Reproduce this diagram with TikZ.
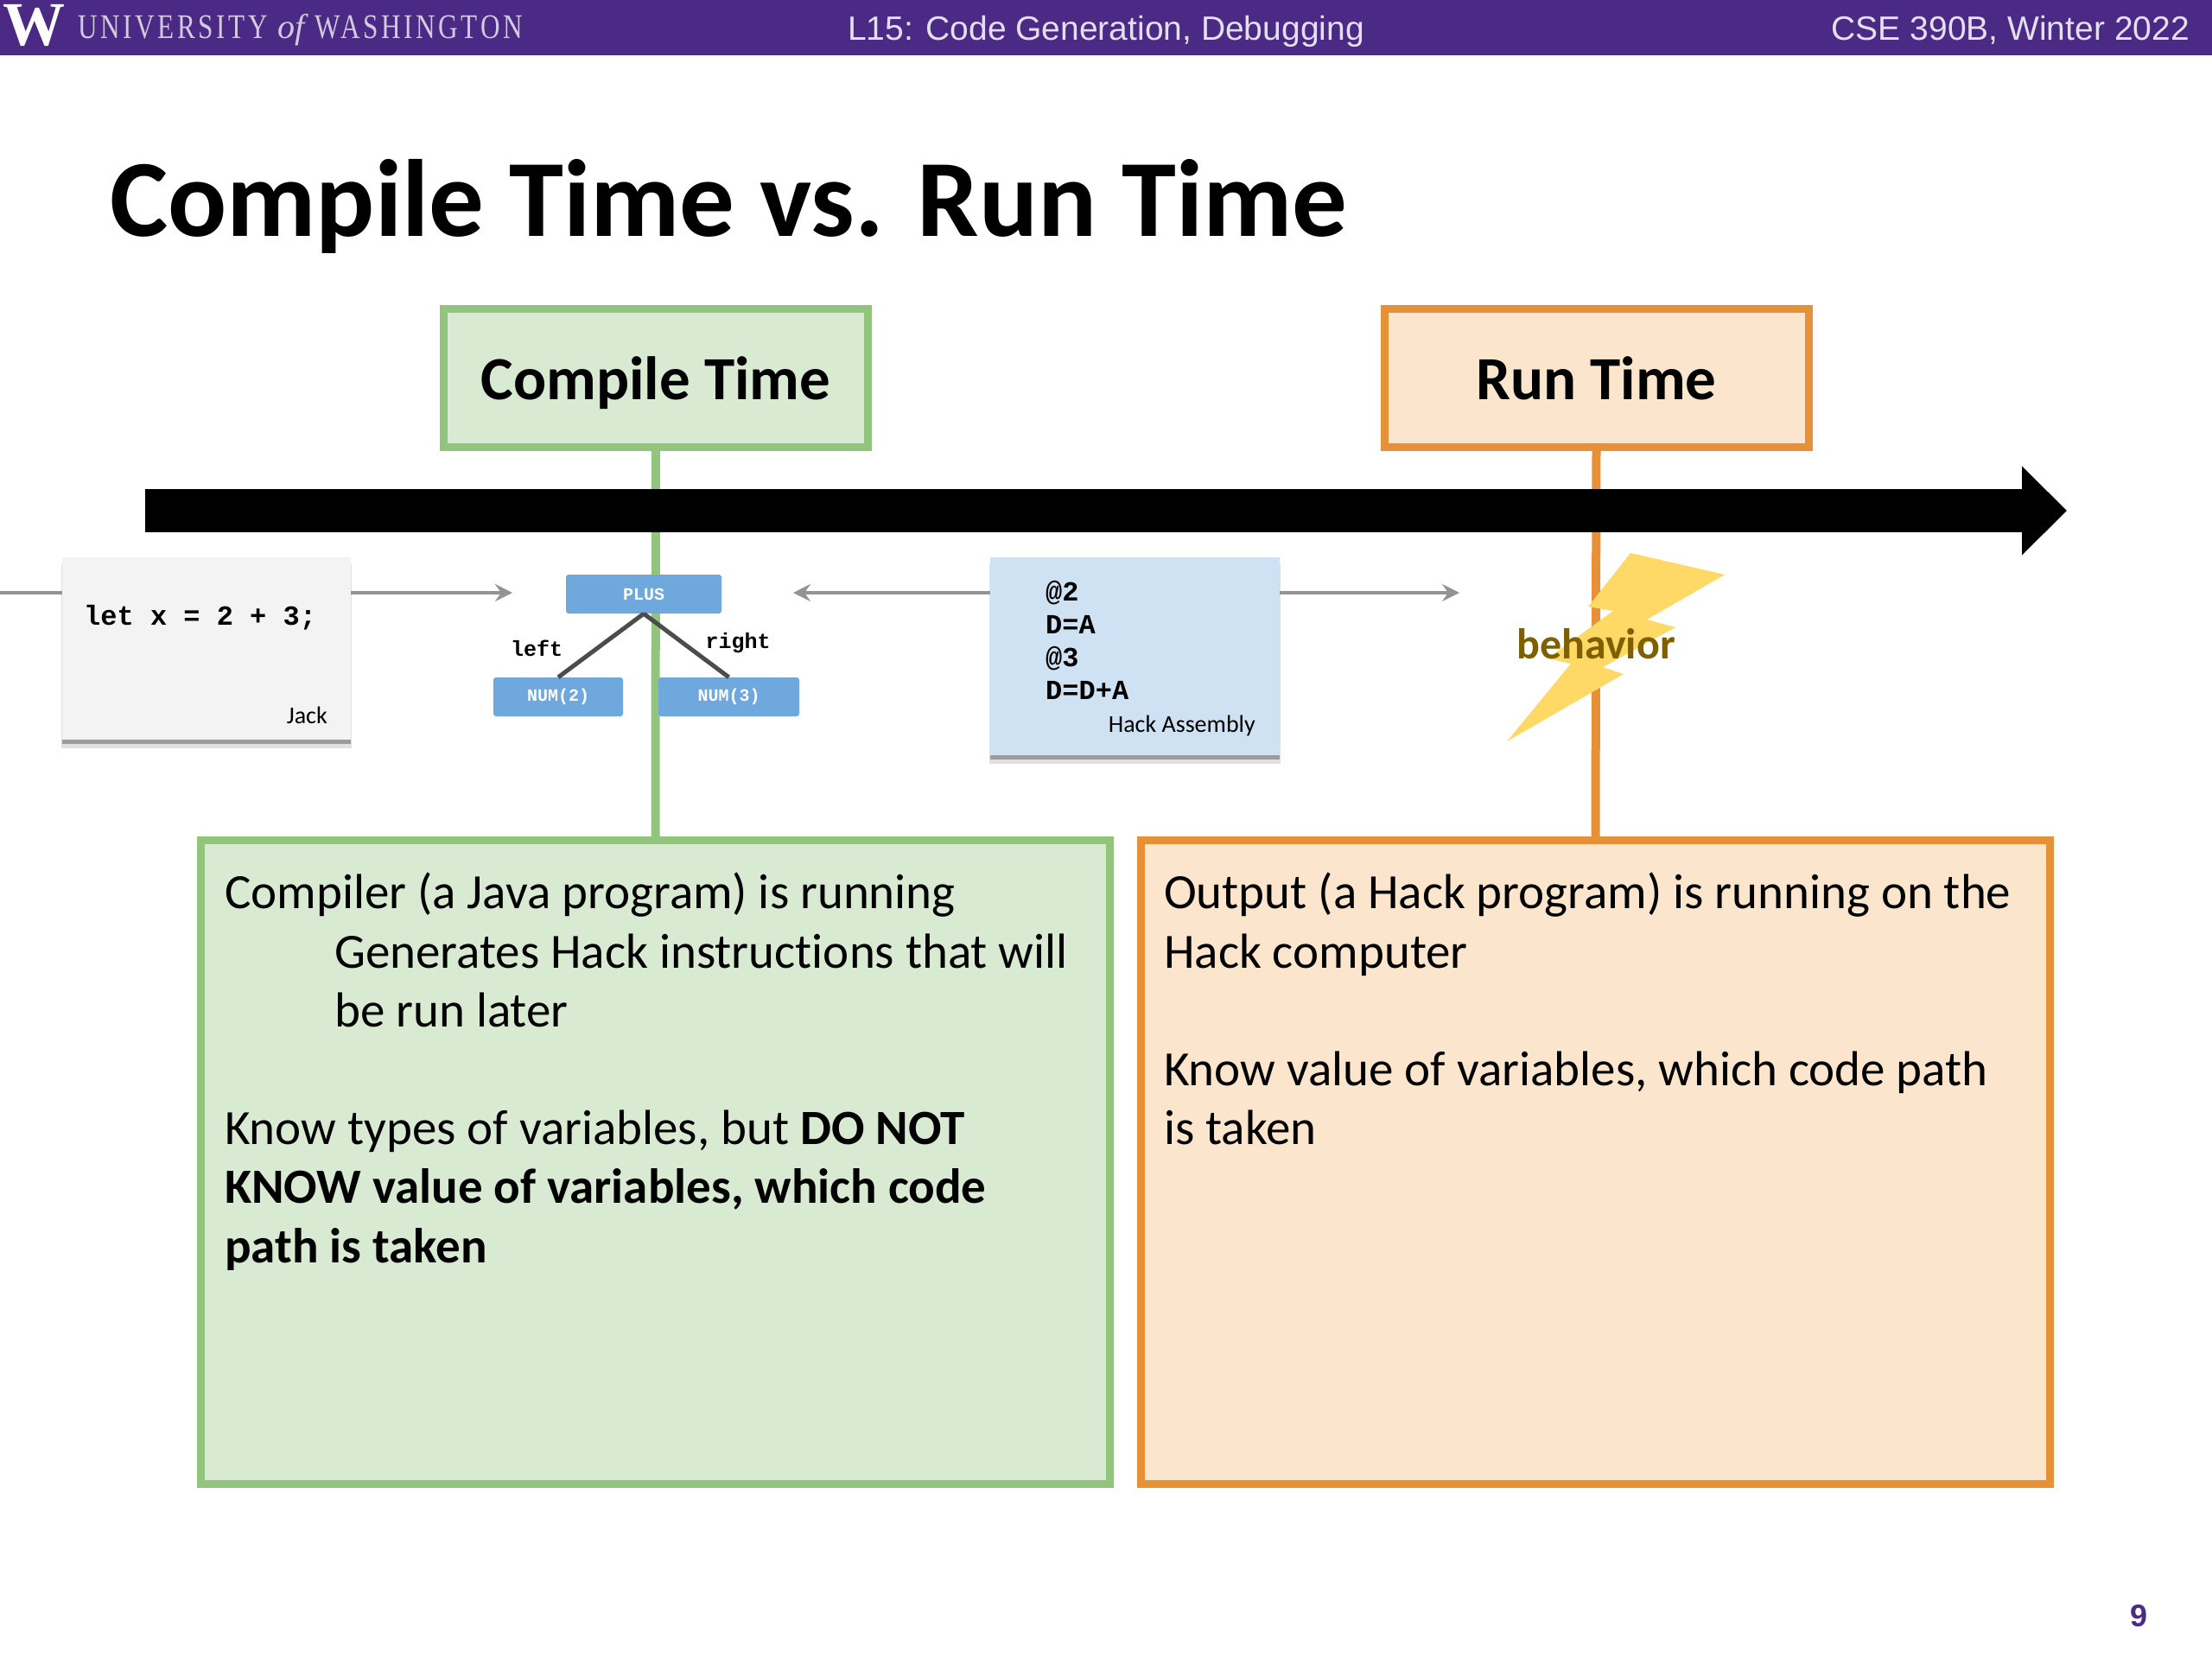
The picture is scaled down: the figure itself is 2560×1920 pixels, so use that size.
\documentclass[tikz,border=0pt]{standalone}
\usepackage{fontspec}
\setmainfont{Carlito}[Ligatures=NoCommon]
\newfontfamily\headfont{Liberation Sans}
\newfontfamily\uwfont[LetterSpace=9,FakeStretch=0.78]{Liberation Serif}
\newfontfamily\uwplain{Liberation Serif}
\newfontfamily\codefont{Liberation Mono}
\usetikzlibrary{arrows.meta,shadows}
\newcommand{\fs}[2]{\fontsize{#1}{#2}\selectfont}
\definecolor{uwpurple}{HTML}{4B2A85}
\definecolor{greenedge}{HTML}{93C47D}
\definecolor{greenfill}{HTML}{D9EAD3}
\definecolor{orangeedge}{HTML}{E69138}
\definecolor{orangefill}{HTML}{FCE5CD}
\definecolor{astblue}{HTML}{6FA8DC}
\definecolor{hackblue}{HTML}{CFE2F3}
\definecolor{jackgray}{HTML}{F3F3F3}
\definecolor{boltyellow}{HTML}{FFD966}
\definecolor{boltbrown}{HTML}{7F6000}
\tikzset{
  sizedbox/.style={rectangle,inner sep=0pt,outer sep=0pt,line width=9pt},
  greenbox/.style={sizedbox,draw=greenedge,fill=greenfill},
  orangebox/.style={sizedbox,draw=orangeedge,fill=orangefill},
  softshadow/.style={general shadow={fill=black,shadow xshift=0pt,shadow yshift=-9pt,shadow scale=1.006,opacity=0.12},
    general shadow={fill=black,shadow xshift=0pt,shadow yshift=-5pt,opacity=0.3}},
  codebox/.style={rectangle,inner sep=0pt,outer sep=0pt,softshadow},
  astnode/.style={rectangle,rounded corners=3pt,inner sep=0pt,fill=astblue,text=white,
    font=\codefont\bfseries\fs{20}{22}},
  flow/.style={draw=gray!85,line width=4pt,-{Stealth[length=20pt,width=20pt,inset=7pt]}},
  flowplain/.style={draw=gray!85,line width=4pt},
  treeedge/.style={draw=black!70,line width=5pt},
  bigtext/.style={anchor=north west,inner sep=0pt,align=left,font=\fs{57}{68.2}},
  boxlabel/.style={inner sep=0pt,anchor=base,font=\bfseries\fs{71}{75}},
  codetext/.style={inner sep=0pt,anchor=north west,align=left,font=\codefont\bfseries\fs{32}{38.2}}
}
\begin{document}
\begin{tikzpicture}[x=1pt,y=-1pt]
  \useasboundingbox (0,0) rectangle (2560,1920);
  % header
  \fill[uwpurple] (0,0) rectangle (2560,64);
  \node[inner sep=0pt,text=white] (logo) at (39,29) {\uwplain\bfseries\fs{72}{72}W};
  \node[inner sep=0pt,anchor=base west,text=white!75!uwpurple] (uw) at (90,44)
    {\uwfont\fs{40}{40}UNIVERSITY\hspace{12pt}\uwplain\itshape of\hspace{12pt}\uwfont\upshape WASHINGTON};
  \node[inner sep=0pt,anchor=base,text=white!85!uwpurple,font=\headfont\fs{39}{39}] (lecture) at (1280,46) {L15: Code Generation, Debugging};
  \node[inner sep=0pt,anchor=base east,text=white!85!uwpurple,font=\headfont\fs{39}{39}] (course) at (2534,46) {CSE 390B, Winter 2022};
  \node[inner sep=0pt,anchor=base west,font=\bfseries\fs{127}{126}] (title) at (127,273) {Compile Time vs. Run Time};
  % large boxes
  \node[greenbox,minimum width=1052pt,minimum height=745pt] (compilebig) at (758.5,1344.5) {};
  \node[orangebox,minimum width=1052pt,minimum height=745pt] (runbig) at (1846.5,1344.5) {};
  % top boxes
  \node[greenbox,minimum width=491pt,minimum height=160pt] (compiletop) at (759,437.5) {};
  \node[orangebox,minimum width=491pt,minimum height=160pt] (runtop) at (1847.5,437.5) {};
  \node[boxlabel] (compilelabel) at (759,462) {Compile Time};
  \node[boxlabel] (runlabel) at (1847.5,462) {Run Time};
  % time lines
  \draw[greenedge,line width=10pt] (compiletop.south) -- (compilebig.north);
  \draw[orangeedge,line width=10pt] (runtop.south) -- (runbig.north);
  \coordinate (timestart) at (168,591);
  \coordinate (timeend) at (2392,591);
  \draw[line width=50pt,-{Triangle[length=52pt,width=100pt]}] (timestart) -- (timeend);
  % jack
  \node[codebox,fill=jackgray,minimum width=334pt,minimum height=211pt] (jack) at (239,750.5) {};
  \coordinate (jackin) at (0,686);
  \coordinate (jackout) at (593,686);
  \draw[flowplain] (jackin) -- (jack.west |- jackin);
  \draw[flow] (jack.east |- jackout) -- (jackout);
  \node[inner sep=0pt,anchor=base west,font=\codefont\bfseries\fs{32}{32}] (letx) at (97,723) {let x = 2 + 3;};
  \node[inner sep=0pt,anchor=base east,font=\fs{28}{28}] (jacklabel) at (379,837) {Jack};
  % ast
  \node[astnode,minimum width=180pt,minimum height=45pt] (plus) at (745,687.5) {PLUS};
  \node[astnode,minimum width=150pt,minimum height=45pt] (numtwo) at (646,806.5) {NUM(2)};
  \node[astnode,minimum width=163pt,minimum height=45pt] (numthree) at (843.5,806.5) {NUM(3)};
  \draw[treeedge] (plus.south) -- (numtwo.north);
  \draw[treeedge] (plus.south) -- (numthree.north);
  \node[inner sep=0pt,font=\codefont\bfseries\fs{25}{25}] (leftlabel) at (621,750) {left};
  \node[inner sep=0pt,font=\codefont\bfseries\fs{25}{25}] (rightlabel) at (854,744) {right};
  % hack
  \node[codebox,fill=hackblue,minimum width=335pt,minimum height=229pt] (hack) at (1313.5,759.5) {};
  \coordinate (hackout) at (1689,686);
  \coordinate (hackback) at (918,686);
  \draw[flow] (hack.west |- hackback) -- (hackback);
  \draw[flow] (hack.east |- hackout) -- (hackout);
  \node[codetext] (hackcode) at (1210,672)
    {@2\\D=A\\@3\\D=D+A};
  \node[inner sep=0pt,anchor=base east,font=\fs{28}{28}] (hacklabel) at (1453,847) {Hack Assembly};
  % behavior
  \fill[boltyellow] (1887,640) -- (1996,665) -- (1906,717) -- (1939,726) -- (1855,772)
    -- (1879,780) -- (1744,858) -- (1818,768) -- (1791,762) -- (1867,707) -- (1838,702) -- cycle;
  \node[inner sep=0pt,text=boltbrown,font=\bfseries\fs{50}{50}] (behavior) at (1847,745) {behavior};
  % text
  \node[bigtext] (compiletext) at (260,1010)
    {Compiler (a Java program) is running\\
     \hspace{127pt}Generates Hack instructions that will\\
     \hspace{127pt}be run later\\[68.2pt]
     Know types of variables, but \textbf{DO NOT}\\
     \textbf{KNOW value of variables, which code}\\
     \textbf{path is taken}};
  \node[bigtext] (runtext) at (1347,1010)
    {Output (a Hack program) is running on the\\
     Hack computer\\[68.2pt]
     Know value of variables, which code path\\
     is taken};
  \node[inner sep=0pt,text=uwpurple,font=\headfont\bfseries\fs{36}{36}] (pagenum) at (2475,1870) {9};
\end{tikzpicture}
\end{document}
